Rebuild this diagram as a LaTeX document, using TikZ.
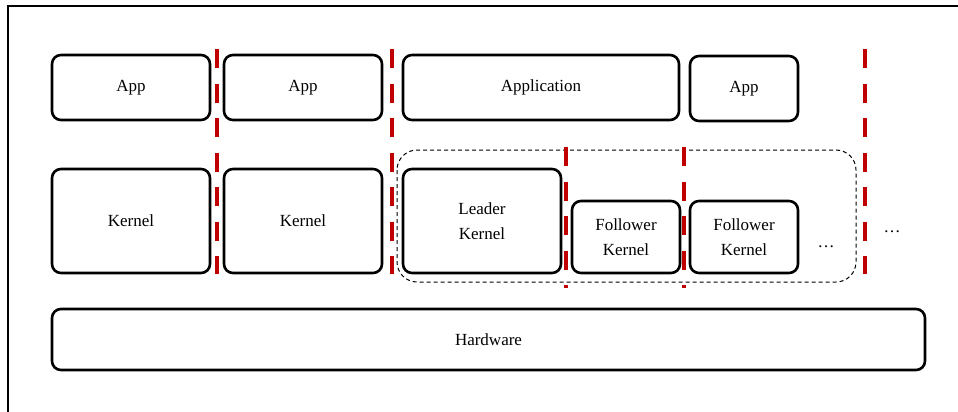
\documentclass[tikz,border=0pt]{standalone}
\usepackage{fontspec}
\setmainfont{Liberation Serif}
\usepackage{tikz}
\definecolor{sepred}{HTML}{C00000}

\begin{document}
\begin{tikzpicture}[x=1pt, y=-1pt,
  layer/.style={draw, line width=2.6pt, rounded corners=9pt, inner sep=0pt,
    align=center, font=\fontsize{17}{25}\selectfont},
  group/.style={draw, line width=1pt, dash pattern=on 4pt off 3pt, rounded corners=20pt},
  sepline/.style={sepred, line width=4.2pt, dash pattern=on 19pt off 15.5pt}]

\clip (0,0) rectangle (958,412);

% Rahmen

\draw[line width=2pt] (8,440) -- (8,6) -- (980,6);

% Anwendungen

\node[layer, minimum width=158pt, minimum height=65pt] (app1) at (131,87.5) {App};

\node[layer, minimum width=158pt, minimum height=65pt] (app2) at (303,87.5) {App};

\node[layer, minimum width=276pt, minimum height=65pt] (appl) at (541,87.5) {Application};

\node[layer, minimum width=108pt, minimum height=65pt] (app3) at (744,88.5) {App};

% Kernel

\node[layer, minimum width=158pt, minimum height=104pt] (kern1) at (131,221) {Kernel};

\node[layer, minimum width=158pt, minimum height=104pt] (kern2) at (303,221) {Kernel};

\draw[group] (397,150) rectangle (856,282);

\node[layer, minimum width=158pt, minimum height=104pt] (leader) at (482,221) {Leader\\Kernel};

\node[layer, minimum width=108pt, minimum height=72pt] (foll1) at (626,237) {Follower\\Kernel};

\node[layer, minimum width=108pt, minimum height=72pt] (foll2) at (744,237) {Follower\\Kernel};

\node[font=\fontsize{17}{25}\selectfont] (more) at (826,247) {\dots};

\node[font=\fontsize{17}{25}\selectfont] (rest) at (892,232) {\dots};

% Hardware

\node[layer, minimum width=873pt, minimum height=61pt] (hw) at (488.5,339.5) {Hardware};

% Trennlinien

\draw[sepline] (217,49) -- (217,274);

\draw[sepline] (392,49) -- (392,274);

\draw[sepline] (566,147) -- (566,288);

\draw[sepline] (684,147) -- (684,288);

\draw[sepline] (865,49) -- (865,274);

\end{tikzpicture}
\end{document}
